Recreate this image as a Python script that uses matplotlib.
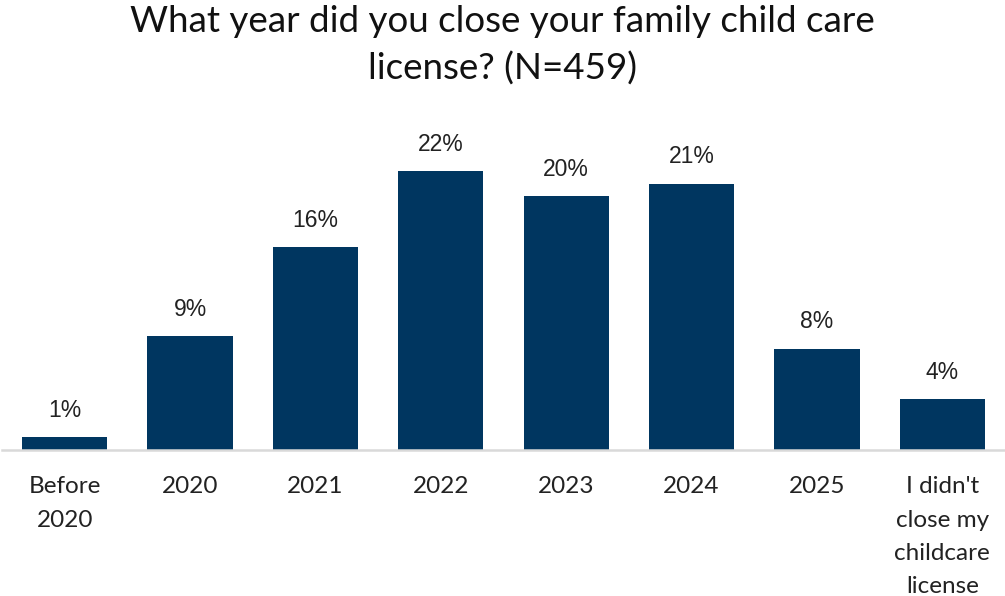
import matplotlib.pyplot as plt
import numpy as np

categories = ["Before\n2020", "2020", "2021", "2022", "2023", "2024", "2025",
              "I didn't\nclose my\nchildcare\nlicense"]
percent = [1, 9, 16, 22, 20, 21, 8, 4]

bar_color = "#003660"
text_color = "#222222"

fig = plt.figure(figsize=(10.05, 5.96), dpi=100)
ax = fig.add_axes([0.002, 0.245, 0.998, 0.553])

x = np.arange(len(categories))
bars = ax.bar(x, percent, width=0.68, color=bar_color)

for rect, v in zip(bars, percent):
    ax.annotate(f"{v}%", (rect.get_x() + rect.get_width() / 2, rect.get_height()),
                xytext=(0, 11), textcoords="offset points", ha="center", va="bottom",
                fontsize=16.5, family="Liberation Sans", color=text_color)

ax.set_xlim(-0.5, len(categories) - 0.5)
ax.set_ylim(0, 26)
ax.set_xticks(x)
ax.set_xticklabels(categories, fontsize=17.5, family="Lato", color=text_color,
                   linespacing=1.72, va="top")
ax.tick_params(axis="x", length=0, pad=19)
ax.set_yticks([])

for side in ["top", "left", "right"]:
    ax.spines[side].set_visible(False)
ax.spines["bottom"].set_color("#d9d9d9")
ax.spines["bottom"].set_linewidth(1.8)

fig.text(0.5, 0.992, "What year did you close your family child care\nlicense? (N=459)",
         ha="center", va="top", fontsize=26.5, family="Lato", color="#111111",
         linespacing=1.5)

fig.savefig("out.png", dpi=100)
